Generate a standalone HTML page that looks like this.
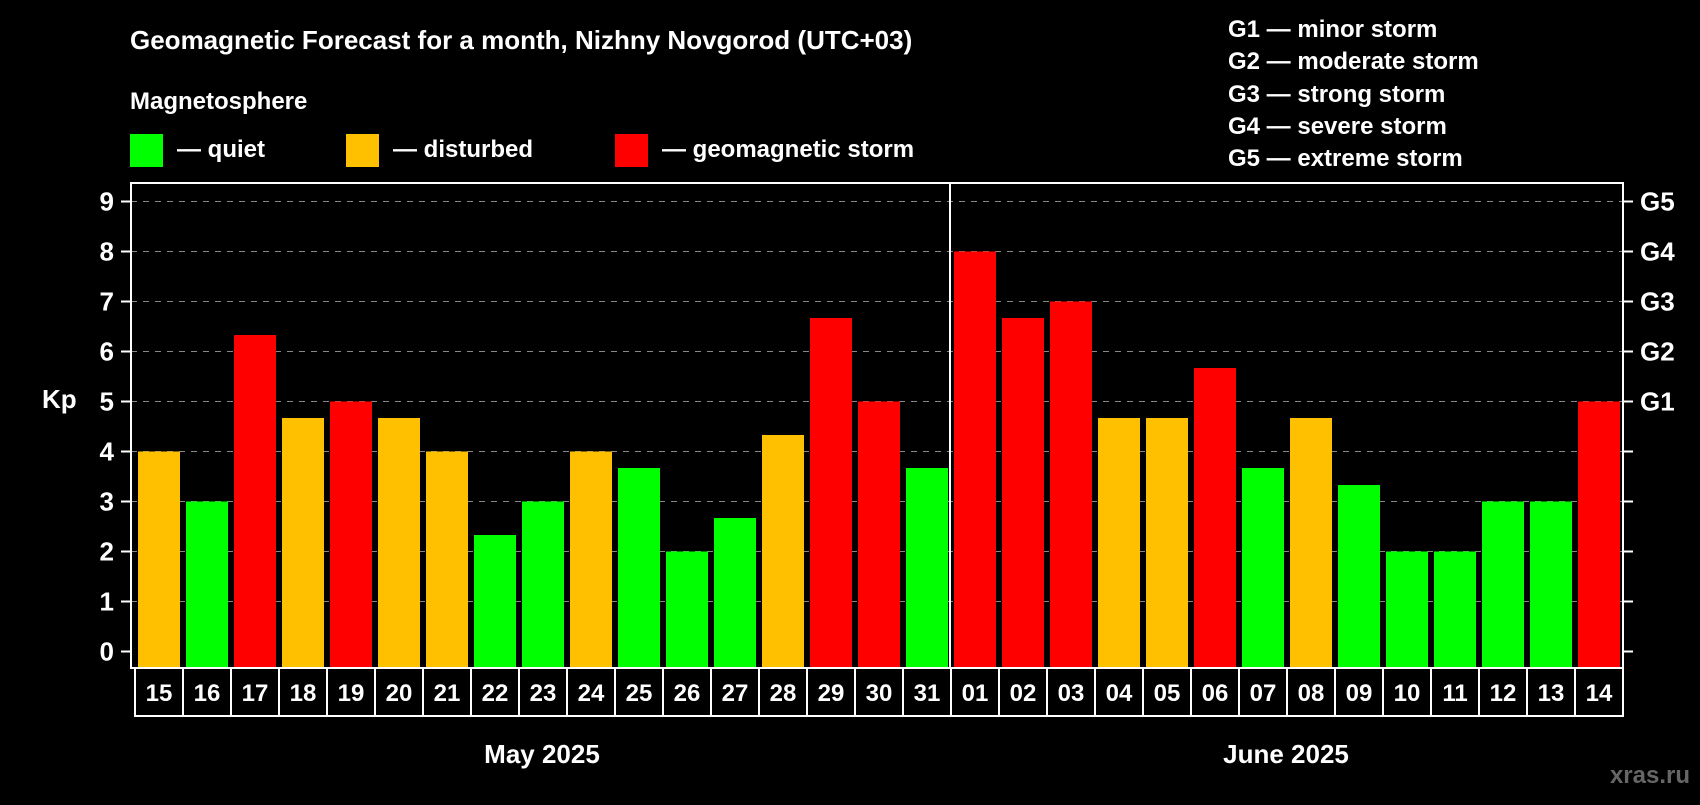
<!DOCTYPE html>
<html><head><meta charset="utf-8"><style>
body{margin:0;background:#000;width:1700px;height:800px;overflow:hidden;font-family:"Liberation Sans",sans-serif}
svg text{font-family:"Liberation Sans",sans-serif;font-weight:bold;fill:#fff}
</style></head><body>
<svg width="1700" height="800" id="c">
<text x="130" y="49" font-size="26">Geomagnetic Forecast for a month, Nizhny Novgorod (UTC+03)</text>
<text x="130" y="109" font-size="24">Magnetosphere</text>
<g><rect x="130" y="134" width="33" height="33" fill="#00ff00"/><text x="177" y="157" font-size="24">— quiet</text></g>
<g><rect x="346" y="134" width="33" height="33" fill="#ffc000"/><text x="393" y="157" font-size="24">— disturbed</text></g>
<g><rect x="615" y="134" width="33" height="33" fill="#ff0000"/><text x="662" y="157" font-size="24">— geomagnetic storm</text></g>
<g font-size="24">
<text x="1228" y="37">G1 — minor storm</text><text x="1228" y="69">G2 — moderate storm</text><text x="1228" y="102">G3 — strong storm</text><text x="1228" y="134">G4 — severe storm</text><text x="1228" y="166">G5 — extreme storm</text></g>
<text x="42" y="408" font-size="26">Kp</text>
<g id="grid"></g><g id="bars"></g><g id="axes"></g>
<text x="542" y="763" font-size="26" text-anchor="middle">May 2025</text>
<text x="1286" y="763" font-size="26" text-anchor="middle">June 2025</text>
<text x="1690" y="783" font-size="24" text-anchor="end" style="fill:#666">xras.ru</text>
</svg>
<script>
const days=["15","16","17","18","19","20","21","22","23","24","25","26","27","28","29","30","31","01","02","03","04","05","06","07","08","09","10","11","12","13","14"];
const kpValues=[4,3,6.33,4.67,5,4.67,4,2.33,3,4,3.67,2,2.67,4.33,6.67,5,3.67,8,6.67,7,4.67,4.67,5.67,3.67,4.67,3.33,2,2,3,3,5];
const yTicks=[0,1,2,3,4,5,6,7,8,9];
const gLabels={5:"G1",6:"G2",7:"G3",8:"G4",9:"G5"};
const NS="http://www.w3.org/2000/svg";
const y=v=>651.5-v*50, x=i=>135+i*48;
function mk(p,t,a){const e=document.createElementNS(NS,t);for(const k in a)e.setAttribute(k,a[k]);document.getElementById(p).appendChild(e);return e;}
yTicks.forEach(v=>{
 if(v>0){const g=mk('grid','line',{x1:131,x2:1623,y1:y(v),y2:y(v),stroke:'#888','stroke-dasharray':'6,6','stroke-width':1});
 }
 const t=mk('axes','line',{x1:121,x2:131,y1:y(v),y2:y(v),stroke:'#fff','stroke-width':2});
 
 const r=mk('axes','line',{x1:1623,x2:1633,y1:y(v),y2:y(v),stroke:'#fff','stroke-width':2});
 
 const l=mk('axes','text',{x:114,y:y(v)+9,'font-size':26,'text-anchor':'end'});l.textContent=v;
 
 if(gLabels[v]){const g=mk('axes','text',{x:1640,y:y(v)+9,'font-size':26});g.textContent=gLabels[v];
 }
});
kpValues.forEach((v,i)=>{
 const col=v>=5?'#ff0000':v>=4?'#ffc000':'#00ff00';
 const b=mk('bars','rect',{x:x(i)+3,y:y(v),width:42,height:668-y(v),fill:col});
 
 const bx=mk('axes','rect',{x:x(i),y:668,width:48,height:48,fill:'none',stroke:'#fff','stroke-width':2});
 
 const t=mk('axes','text',{x:x(i)+24,y:701,'font-size':24,'text-anchor':'middle'});t.textContent=days[i];
 
});
const f=mk('axes','rect',{x:131,y:183,width:1492,height:485,fill:'none',stroke:'#fff','stroke-width':2});

const d=mk('axes','line',{x1:x(17)-1,x2:x(17)-1,y1:183,y2:668,stroke:'#fff','stroke-width':2});

</script>
</body></html>
